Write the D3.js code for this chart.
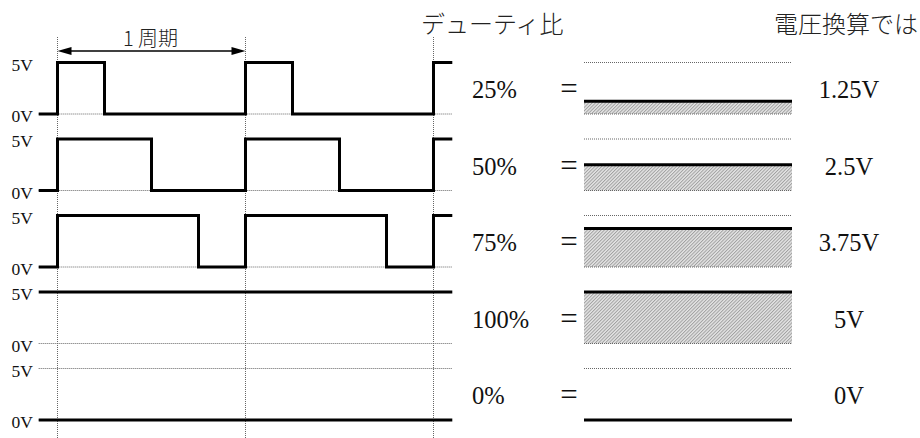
<!DOCTYPE html>
<html><head><meta charset="utf-8">
<script src="https://cdn.jsdelivr.net/npm/d3@7"></script>
<style>html,body{margin:0;padding:0;background:#fff;}svg{display:block;}</style>
</head><body>
<script>
// ---- data ----
const duties = [25, 50, 75, 100, 0];               // duty ratio (%) per row
const dutyLabels = ["25%", "50%", "75%", "100%", "0%"];
const voltLabels = ["1.25V", "2.5V", "3.75V", "5V", "0V"];
const levelTicks = [5, 0];                          // voltage levels per row
const levelLabels = ["5V", "0V"];
const cycleStarts = [0, 1, 2];                      // period boundaries
const vHigh = 5;
const periodLabel = "1 周期";
const titleLeft = "デューティ比";
const titleRight = "電圧換算では";

// ---- layout ----
const W = 920, H = 438;
const svg = d3.select("body").append("svg").attr("width", W).attr("height", H);
const serif = "'Liberation Serif', 'Times New Roman', serif";
const cjk = "'Noto Sans CJK JP', sans-serif";

const x = d3.scaleLinear().domain([0, 2]).range([57.5, 433.5]);
const tMin = -0.1, tMax = 2.1;
const row = d3.scalePoint().domain(d3.range(duties.length)).range([114, 420]); // 0V baseline of each row
const v = d3.scaleLinear().domain([0, vHigh]).range([0, -51.5]);
const bx = d3.scaleLinear().domain([0, 1]).range([584, 792]);

// hatch pattern
const defs = svg.append("defs");
const pat = defs.append("pattern").attr("id", "hatch").attr("patternUnits", "userSpaceOnUse")
  .attr("width", 2.4).attr("height", 2.4).attr("patternTransform", "rotate(45)");
pat.append("rect").attr("width", 2.4).attr("height", 2.4).attr("fill", "#e4e4e4");
pat.append("line").attr("x1", 0.5).attr("x2", 0.5).attr("y1", 0).attr("y2", 2.4)
  .attr("stroke", "#9a9a9a").attr("stroke-width", 0.9);

const dotted = g => g.attr("stroke", "#666").attr("stroke-width", 1).attr("stroke-dasharray", "1,1").attr("fill", "none");

// vertical grid lines at period boundaries
svg.append("g").selectAll("line").data(cycleStarts).join("line")
  .attr("x1", d => x(d)).attr("x2", d => x(d)).attr("y1", 37).attr("y2", H)
  .call(dotted);

// period arrow
const ay = 51;
svg.append("line").attr("x1", x(0) + 10).attr("x2", x(1) - 10).attr("y1", ay).attr("y2", ay)
  .attr("stroke", "#000").attr("stroke-width", 1.3);
svg.append("path").attr("d", `M${x(0)},${ay} l14,-4 l0,8 Z`).attr("fill", "#000");
svg.append("path").attr("d", `M${x(1)},${ay} l-14,-4 l0,8 Z`).attr("fill", "#000");
svg.append("text").attr("x", (x(0) + x(1)) / 2 - 1).attr("y", 46).attr("text-anchor", "middle")
  .attr("font-family", cjk).attr("font-size", 20).attr("font-weight", 300).attr("fill", "#222").text(periodLabel);

// titles
svg.append("text").attr("x", 421).attr("y", 33).attr("font-family", cjk).attr("font-size", 24)
  .attr("font-weight", 300).attr("fill", "#222").text(titleLeft);
svg.append("text").attr("x", 918).attr("y", 33).attr("text-anchor", "end").attr("font-family", cjk)
  .attr("font-size", 24).attr("font-weight", 300).attr("fill", "#222").text(titleRight);

// waveform builder from duty ratio
function wave(d) {
  const f = d / 100;
  if (f <= 0) return [[tMin, 0], [tMax, 0]];
  if (f >= 1) return [[tMin, vHigh], [tMax, vHigh]];
  const pts = [[tMin, 0]];
  cycleStarts.forEach(c => {
    pts.push([c, 0], [c, vHigh]);
    if (c + f <= tMax) pts.push([c + f, vHigh], [c + f, 0]);
  });
  pts.push([tMax, pts[pts.length - 1][1]]);
  return pts;
}

const rows = svg.append("g").selectAll("g").data(duties).join("g")
  .attr("transform", (d, i) => `translate(0,${row(i)})`);

// dotted reference lines
rows.append("line").attr("x1", x(tMin)).attr("x2", x(tMax)).attr("y1", v(0)).attr("y2", v(0)).call(dotted);
rows.filter(d => d === 0).append("line").attr("x1", x(tMin)).attr("x2", x(tMax))
  .attr("y1", v(vHigh)).attr("y2", v(vHigh)).call(dotted);

// level labels
rows.selectAll("text.lvl").data(levelTicks).join("text").attr("class", "lvl")
  .attr("x", 33).attr("y", d => v(d) + 8).attr("text-anchor", "end")
  .attr("font-family", serif).attr("font-size", 17.5).attr("fill", "#111")
  .text((d, i) => levelLabels[i]);

// waveforms
const line = d3.line().x(p => x(p[0])).y(p => v(p[1]));
rows.append("path").attr("d", d => line(wave(d))).attr("fill", "none")
  .attr("stroke", "#000").attr("stroke-width", 3).attr("stroke-linejoin", "miter");

// right side: average voltage bars
rows.filter(d => d < 100).append("line").attr("x1", bx(0)).attr("x2", bx(1))
  .attr("y1", v(vHigh)).attr("y2", v(vHigh)).call(dotted);
rows.filter(d => d > 0).append("rect").attr("x", bx(0)).attr("width", bx(1) - bx(0))
  .attr("y", d => v(vHigh * d / 100)).attr("height", d => -v(vHigh * d / 100))
  .attr("fill", "url(#hatch)");
rows.filter(d => d > 0).append("line").attr("x1", bx(0)).attr("x2", bx(1))
  .attr("y1", v(0)).attr("y2", v(0)).call(dotted);
rows.append("line").attr("x1", bx(0)).attr("x2", bx(1))
  .attr("y1", d => v(vHigh * d / 100)).attr("y2", d => v(vHigh * d / 100))
  .attr("stroke", "#000").attr("stroke-width", 3);

// texts
const mid = v(vHigh / 2) + 10;
rows.append("text").attr("x", 472).attr("y", mid).attr("font-family", serif).attr("font-size", 24.5)
  .attr("fill", "#111").text((d, i) => dutyLabels[i]);
rows.append("text").attr("x", 569).attr("y", mid + 1).attr("text-anchor", "middle").attr("font-family", serif)
  .attr("font-size", 31).attr("fill", "#111").text("=");
rows.append("text").attr("x", 849).attr("y", mid).attr("text-anchor", "middle").attr("font-family", serif)
  .attr("font-size", 24.5).attr("fill", "#111").text((d, i) => voltLabels[i]);
</script>
</body></html>
